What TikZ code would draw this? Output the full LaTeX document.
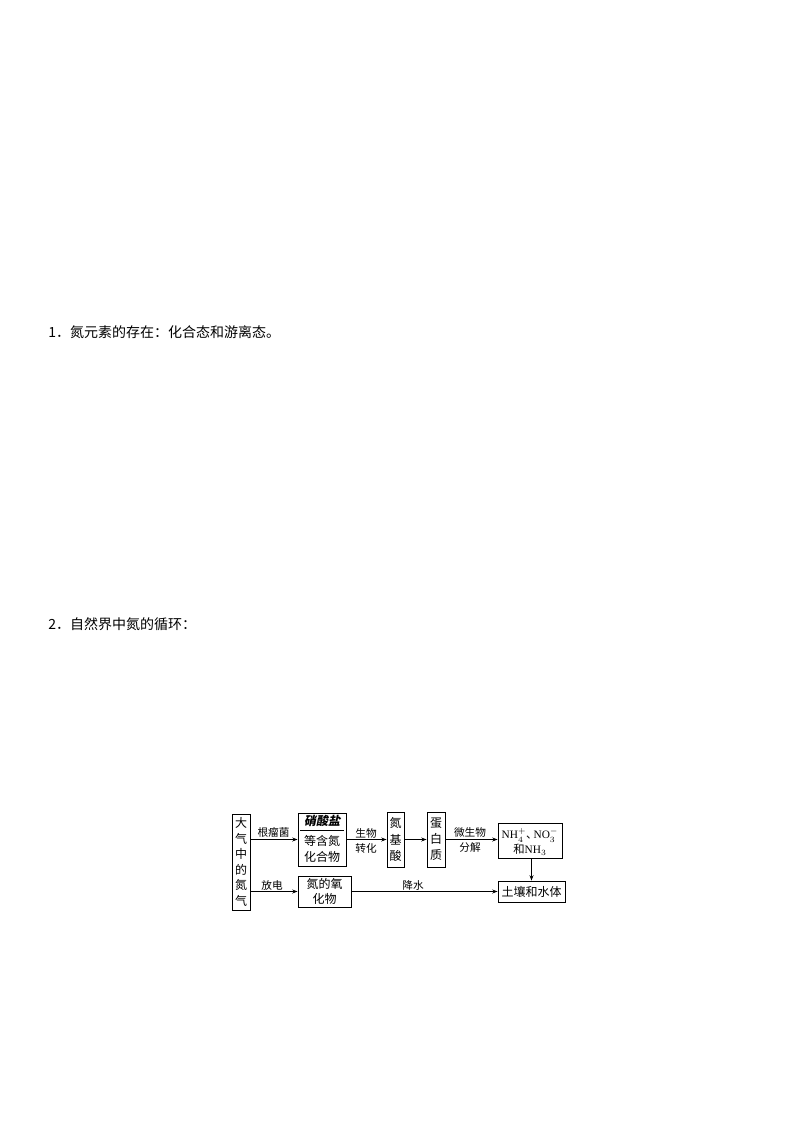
\documentclass[tikz,border=0pt]{standalone}
\usepackage{fontspec}
\setmainfont{Noto Sans CJK SC}
\newfontfamily\tnr{Liberation Serif}
\newfontfamily\hdr{Noto Sans CJK SC}[FakeSlant=0.2]
\usetikzlibrary{arrows.meta}
\begin{document}
\begin{tikzpicture}[x=0.75pt,y=-0.75pt,
  box/.style={draw,line width=0.7pt,inner sep=0pt},
  txt/.style={inner sep=0pt,font=\fontsize{9}{11.6}\selectfont,align=center},
  lbl/.style={inner sep=0pt,font=\fontsize{8}{11}\selectfont,align=center},
  body/.style={inner sep=0pt,anchor=west,font=\fontsize{10.5}{13}\selectfont},
  arr/.style={line width=0.6pt,-{Stealth[length=4pt,width=3pt]}}]
\useasboundingbox (0,0) rectangle (794,1123);
\node[body] (t1) at (48,332) {1．氮元素的存在：化合态和游离态。};
\node[body] (t2) at (48,624) {2．自然界中氮的循环：};
% boxes
\node[box,minimum width=13.5pt,minimum height=72pt] (A) at (241,862) {};
\node[txt,font=\fontsize{9}{11.7}\selectfont] (At) at (241,862) {大\\气\\中\\的\\氮\\气};
\node[box,minimum width=36pt,minimum height=39.75pt] (B) at (322,839.5) {};
\node[txt,font=\fontsize{9}{11}\selectfont\hdr\bfseries] (Bh) at (322,821) {硝酸盐};
\draw[line width=0.6pt] (300,830) -- (344,830);
\node[txt] (Bt) at (322,849) {等含氮\\化合物};
\node[box,minimum width=12.75pt,minimum height=41.25pt] (C) at (395.5,839.5) {};
\node[txt] (Ct) at (395.5,839.5) {氮\\[0.5pt]基\\[0.5pt]酸};
\node[box,minimum width=13.5pt,minimum height=41.25pt] (D) at (436,839.5) {};
\node[txt] (Dt) at (436,839.5) {蛋\\[0.5pt]白\\[0.5pt]质};
\node[box,minimum width=48pt,minimum height=26.25pt] (E) at (530,840.5) {};
\node[txt,font=\fontsize{8.5}{11.6}\selectfont] (Et) at (530,842) {{\tnr NH$_4^+$}、\kern-0.35em{\tnr NO$_3^-$}\\和{\tnr NH$_3$}};
\node[box,minimum width=50.25pt,minimum height=15.75pt] (F) at (531.5,891.5) {};
\node[txt] (Ft) at (531.5,891.5) {土壤和水体};
\node[box,minimum width=39.75pt,minimum height=23.25pt] (G) at (324.5,891.5) {};
\node[txt] (Gt) at (324.5,891.5) {氮的氧\\化物};
% arrows
\draw[arr] (A.east |- B.west) -- (B.west);
\draw[arr] (B.east) -- (C.west);
\draw[arr] (C.east) -- (D.west);
\draw[arr] (D.east) -- (D.east -| E.west);
\draw[arr] (A.east |- G.west) -- (G.west);
\draw[arr] (G.east) -- (F.west);
\draw[arr] (F.north |- E.south) -- (F.north);
% labels
\node[lbl] (l1) at (273.5,832) {根瘤菌};
\node[lbl] (l2) at (366,841) {生物\\转化};
\node[lbl] (l3) at (470,840) {微生物\\分解};
\node[lbl] (l4) at (272,885) {放电};
\node[lbl] (l5) at (413,885) {降水};
\end{tikzpicture}
\end{document}
